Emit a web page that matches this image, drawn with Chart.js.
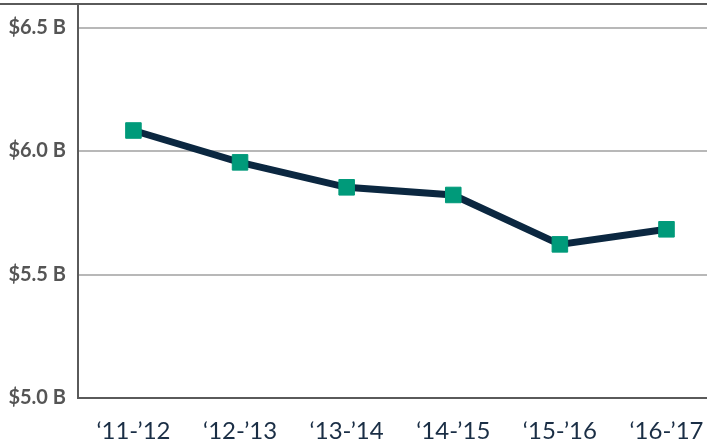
<!DOCTYPE html>
<html>
<head>
<meta charset="utf-8">
<script src="https://cdn.jsdelivr.net/npm/chart.js@4"></script>
<style>
    html, body { margin: 0; padding: 0; background: #fff; overflow: hidden; }
</style>
</head>
<body>
<canvas id="budget-chart" width="707" height="443"></canvas>
<script>
    var years = ["\u201811-\u201912", "\u201812-\u201913", "\u201813-\u201914", "\u201814-\u201915", "\u201815-\u201916", "\u201816-\u201917"];
    var budget = [6.083, 5.954, 5.853, 5.822, 5.622, 5.683];
    var yTicks = [5.0, 5.5, 6.0, 6.5];

    var axisGrey = "#5a5a5a";

    // year index on a linear axis so the last column can run past the right edge like the original
    var points = budget.map(function(v, i) { return { x: i, y: v }; });

    // top rule and the bit of the y axis that runs up to it
    var frameLines = {
        id: "frameLines",
        afterDraw: function(chart) {
            var ctx = chart.ctx;
            var area = chart.chartArea;
            ctx.save();
            ctx.strokeStyle = axisGrey;
            ctx.lineWidth = 2;
            ctx.beginPath();
            ctx.moveTo(0, 4);
            ctx.lineTo(chart.width, 4);
            ctx.moveTo(area.left, 4);
            ctx.lineTo(area.left, area.top);
            ctx.stroke();
            ctx.restore();
        }
    };

    var budgetData = {
        type: 'line',
        data: {
            datasets: [{
                data: points,
                borderColor: "#0b2740",
                borderWidth: 7,
                tension: 0,
                clip: false,
                pointStyle: 'rect',
                pointRadius: 11,
                pointHoverRadius: 11,
                pointBackgroundColor: "#009a7a",
                pointBorderColor: "#009a7a",
                pointBorderWidth: 1
            }]
        },
        options: {
            responsive: false,
            animation: false,
            layout: {
                autoPadding: false,
                padding: { top: 27.5, right: 0, bottom: 0, left: 0 }
            },
            plugins: {
                legend: { display: false },
                title: { display: false },
                tooltip: { enabled: false }
            },
            scales: {
                x: {
                    type: 'linear',
                    min: -0.52,
                    max: 5.38,
                    afterBuildTicks: function(scale) {
                        scale.ticks = years.map(function(y, i) { return { value: i }; });
                    },
                    // invisible tick marks push the labels down without counting as side padding
                    grid: {
                        display: true,
                        drawOnChartArea: false,
                        drawTicks: true,
                        tickLength: 16,
                        tickColor: "rgba(0,0,0,0)"
                    },
                    border: { display: true, color: axisGrey, width: 2 },
                    ticks: {
                        padding: 3,
                        maxRotation: 0,
                        autoSkip: false,
                        color: "#1a2e45",
                        font: { family: "Lato", size: 24, weight: 'normal' },
                        callback: function(value) { return years[value]; }
                    },
                    afterFit: function(scale) { scale.height = 45; }
                },
                y: {
                    min: 5.0,
                    max: 6.5,
                    afterBuildTicks: function(scale) {
                        scale.ticks = yTicks.map(function(v) { return { value: v }; });
                    },
                    grid: { color: "#b8b8b8", lineWidth: 2, drawTicks: false },
                    border: { display: true, color: axisGrey, width: 2 },
                    ticks: {
                        padding: 12,
                        color: "#555555",
                        font: { family: "Lato", size: 20, weight: 'bold' },
                        callback: function(value) { return "$" + value.toFixed(1) + " B"; }
                    },
                    afterFit: function(scale) { scale.width = 78; }
                }
            }
        },
        plugins: [frameLines]
    };

    var ctx = document.getElementById("budget-chart").getContext("2d");
    window.budgetChart = new Chart(ctx, budgetData);
</script>
</body>
</html>
